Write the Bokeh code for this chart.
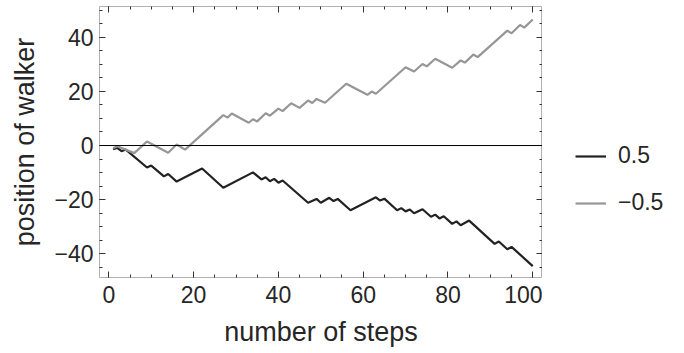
from bokeh.plotting import figure
from bokeh.models import (Range1d, FixedTicker, LinearAxis, Span, Legend, LegendItem)
from bokeh.layouts import row
from bokeh.embed import file_html
from bokeh.resources import INLINE

# ---- data (turning points of each walk) ----
black_label = "0.5"
black_steps = [1, 2, 3, 4, 9, 10, 13, 14, 16, 22, 27, 34, 36, 37, 38, 39, 40, 41, 47, 49, 50,
               52, 53, 54, 57, 63, 64, 65, 68, 69, 70, 71, 72, 74, 76, 77, 78, 79, 81, 82, 83,
               85, 91, 92, 94, 95, 100]
black_pos = [-1.4, -0.9, -2.1, -1.5, -8.1, -7.4, -11.4, -10.5, -13.3, -8.5, -15.6, -9.9, -12.5,
             -11.7, -13.2, -12.3, -13.7, -12.9, -21.1, -19.7, -21.1, -19.3, -20.5, -19.7, -23.9,
             -19.1, -20.3, -19.6, -23.9, -23.1, -24.3, -23.6, -25.0, -23.5, -26.3, -25.5, -26.9,
             -26.1, -28.9, -28.0, -29.4, -27.7, -36.3, -35.4, -38.3, -37.4, -44.5]

gray_label = "\u22120.5"
gray_steps = [1, 2, 3, 6, 9, 14, 16, 18, 27, 28, 29, 33, 34, 35, 37, 38, 40, 41, 43, 45, 47, 48,
              49, 51, 56, 61, 62, 63, 70, 72, 74, 75, 77, 81, 83, 84, 86, 87, 94, 95, 97, 98, 100]
gray_pos = [-1.0, -0.3, -0.9, -2.8, 1.5, -2.7, 0.4, -1.5, 11.2, 10.3, 11.8, 8.4, 9.7, 8.9, 11.9,
            11.0, 13.6, 12.7, 15.6, 13.9, 16.6, 15.7, 17.2, 15.8, 22.8, 18.7, 19.9, 19.1, 28.9,
            27.3, 30.1, 29.2, 32.0, 28.7, 31.4, 30.6, 33.6, 32.6, 42.4, 41.4, 44.5, 43.5, 46.5]

x_major = [0, 20, 40, 60, 80, 100]
x_minor = list(range(0, 101, 5))
y_major = [-40, -20, 0, 20, 40]
y_minor = list(range(-45, 51, 5))
y_label_overrides = {-40: "\u221240", -20: "\u221220", 0: "0", 20: "20", 40: "40"}

FONT = "Liberation Sans"
TXT = "#262626"
TICK = "#333333"
BLACK = "#222222"
GRAY = "#969696"

p = figure(frame_width=443, frame_height=271, output_backend="svg", toolbar_location=None,
           x_range=Range1d(-2.2, 102.3), y_range=Range1d(-48.7, 51.3),
           min_border_left=99, min_border_right=0, min_border_top=6, min_border_bottom=76,
           x_axis_label="number of steps", y_axis_label="position of walker")
p.xgrid.visible = False
p.ygrid.visible = False
p.outline_line_color = "#b0b0b0"
p.outline_line_width = 1
p.background_fill_color = "white"
p.border_fill_color = "white"

def style_axis(ax, ticks, minors, show_labels):
    ax.ticker = FixedTicker(ticks=ticks, minor_ticks=minors)
    ax.axis_line_color = None
    ax.major_tick_in = 6
    ax.major_tick_out = 0
    ax.minor_tick_in = 3
    ax.minor_tick_out = 0
    ax.major_tick_line_color = TICK
    ax.minor_tick_line_color = TICK
    ax.major_tick_line_width = 1
    ax.minor_tick_line_width = 1
    if show_labels:
        ax.major_label_text_font = FONT
        ax.major_label_text_font_size = "23px"
        ax.major_label_text_color = TXT
        ax.axis_label_text_font = FONT
        ax.axis_label_text_font_size = "27px"
        ax.axis_label_text_font_style = "normal"
        ax.axis_label_text_color = TXT
    else:
        ax.major_label_overrides = {t: "" for t in ticks}
        ax.major_label_standoff = 0

xa = p.xaxis[0]
ya = p.yaxis[0]
style_axis(xa, x_major, x_minor, True)
style_axis(ya, y_major, y_minor, True)
ya.major_label_overrides = y_label_overrides
xa.major_label_standoff = 8
xa.axis_label_standoff = 11
ya.major_label_standoff = 6
ya.axis_label_standoff = 11

top = LinearAxis()
style_axis(top, x_major, x_minor, False)
p.add_layout(top, "above")
right = LinearAxis()
style_axis(right, y_major, y_minor, False)
p.add_layout(right, "right")

p.add_layout(Span(location=0, dimension="width", line_color="black", line_width=1))

p.line(black_steps, black_pos, line_color=BLACK, line_width=2.2)
p.line(gray_steps, gray_pos, line_color=GRAY, line_width=2.2)

# ---- legend panel (same series, drawn off-view so only the legend keys show) ----
lg = figure(width=142, height=353, output_backend="svg", toolbar_location=None,
            x_range=Range1d(500, 600), y_range=Range1d(500, 600),
            min_border_left=0, min_border_right=0, min_border_top=0, min_border_bottom=0)
lg.axis.visible = False
lg.grid.visible = False
lg.outline_line_color = None
lg.background_fill_color = "white"
lg.border_fill_color = "white"
lb = lg.line(black_steps, black_pos, line_color=BLACK, line_width=2.2)
lgr = lg.line(gray_steps, gray_pos, line_color=GRAY, line_width=2.2)
legend = Legend(items=[LegendItem(label=black_label, renderers=[lb]),
                       LegendItem(label=gray_label, renderers=[lgr])],
                location=(33, 61), padding=0, margin=0, spacing=20,
                glyph_width=31, glyph_height=20, label_height=20, label_standoff=12,
                border_line_color=None, background_fill_alpha=0,
                label_text_font=FONT, label_text_font_size="23px", label_text_color=TXT)
lg.add_layout(legend)

layout = row(p, lg)
open("out.html", "w").write(file_html(layout, INLINE))
